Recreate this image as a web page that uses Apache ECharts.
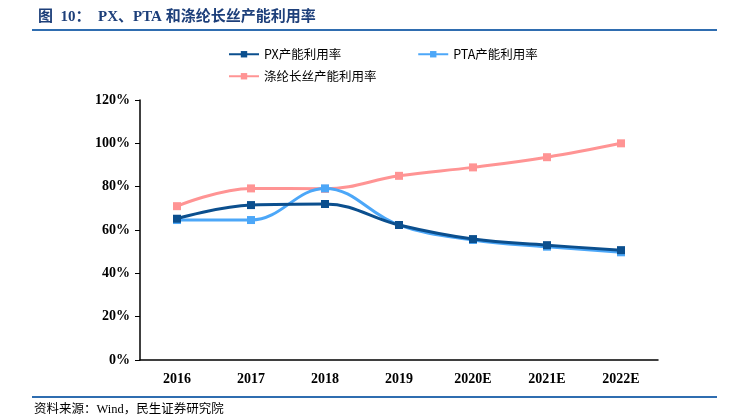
<!DOCTYPE html>
<html><head><meta charset="utf-8">
<script src="https://cdn.jsdelivr.net/npm/echarts@6/dist/echarts.min.js"></script>
<style>html,body{margin:0;padding:0;background:#fff}#c{width:739px;height:418px}</style>
</head><body><div id="c"></div>
<script>
var categories = ['2016','2017','2018','2019','2020E','2021E','2022E'];
var pxRate = [65.2, 71.5, 72.0, 62.3, 55.8, 53.0, 50.7];
var ptaRate = [64.6, 64.6, 79.2, 62.3, 55.4, 52.3, 49.7];
var polyRate = [71.0, 79.2, 79.0, 85.0, 88.9, 93.6, 100.0];
var seriesNames = ['PX产能利用率','PTA产能利用率','涤纶长丝产能利用率'];
var colors = ['#0b4f8e','#4ca7f8','#ff9494'];
var yTicks = [0,20,40,60,80,100,120];

var chart = echarts.init(document.getElementById('c'));
function mk(i, data){
  return {name: seriesNames[i], type:'line', smooth:0.4, data:data,
    symbol:'rect', symbolSize:8, lineStyle:{width:3,color:colors[i]},
    itemStyle:{color:colors[i]}, z: 3-i};
}
var legText = {fontFamily:'Noto Sans CJK SC',fontSize:12.5,color:'#000'};
chart.setOption({
  animation:false,
  grid:{left:140,right:81,top:100,bottom:58},
  legend:[{data:[seriesNames[0],seriesNames[1]],left:223,top:43,itemWidth:30,itemHeight:8,itemGap:76,textStyle:legText},
    {data:[seriesNames[2]],left:223,top:65,itemWidth:30,itemHeight:8,textStyle:legText}],
  xAxis:{type:'category',data:categories,boundaryGap:true,
    axisLine:{lineStyle:{color:'#000',width:1.5}},axisTick:{show:false},
    axisLabel:{color:'#000',fontFamily:'Liberation Serif',fontWeight:'bold',fontSize:14,margin:12}},
  yAxis:{type:'value',min:0,max:120,interval:20,splitLine:{show:false},
    axisLine:{show:true,lineStyle:{color:'#000',width:1.5}},axisTick:{show:true,length:5,lineStyle:{color:'#000'}},
    axisLabel:{color:'#000',fontFamily:'Liberation Serif',fontWeight:'bold',fontSize:14,margin:10,
      formatter:function(v){return v+'%';}}},
  series:[mk(0,pxRate),mk(1,ptaRate),mk(2,polyRate)],
  graphic:[
    {type:'text',left:38,top:10,style:{text:'图  10：  PX、PTA 和涤纶长丝产能利用率',fill:'#1d3f7a',
      font:'bold 15px "Liberation Serif","Noto Sans CJK SC"'}},
    {type:'rect',shape:{x:32,y:29,width:685,height:2},style:{fill:'#2f6db0'}},
    {type:'rect',shape:{x:32,y:396,width:685,height:2},style:{fill:'#2f6db0'}},
    {type:'text',left:34,top:403,style:{text:'资料来源：Wind，民生证券研究院',fill:'#000',
      font:'12.5px "Liberation Serif","Noto Sans CJK SC"'}}
  ]
});
</script></body></html>
